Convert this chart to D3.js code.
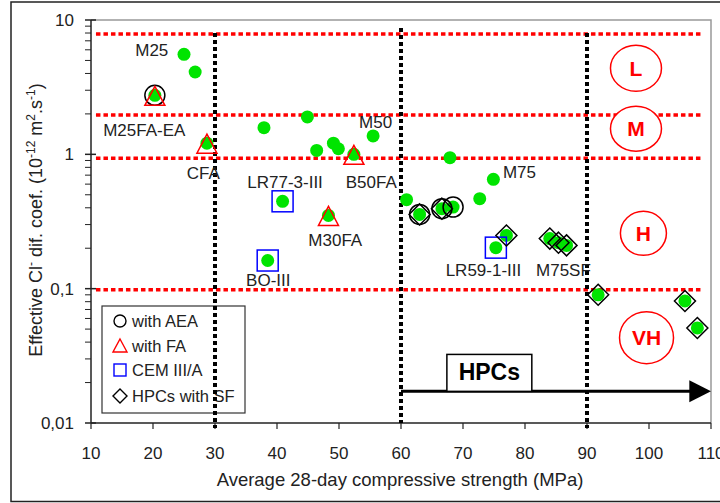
<!DOCTYPE html>
<html>
<head>
<meta charset="utf-8">
<script src="https://cdn.jsdelivr.net/npm/d3@7"></script>
<style>
  body { margin: 0; background: #fff; }
  text { font-family: "Liberation Sans", Arial, sans-serif; fill: #222; }
</style>
</head>
<body>
<svg id="chart"></svg>
<script>
// all concretes (green dots)
let strength = [25.0, 26.8, 20.3, 28.7, 37.9, 44.9, 46.4, 49.1, 49.9, 52.4, 55.5, 40.9, 48.3, 38.5,
  67.9, 74.9, 72.7, 60.9, 63.0, 66.6, 68.4, 75.3, 77.0, 84.0, 85.4, 86.7, 91.8, 105.8, 107.8];
let diffCoef = [5.55, 4.10, 2.75, 1.21, 1.58, 1.90, 1.07, 1.21, 1.10, 1.0, 1.37, 0.447, 0.351, 0.162,
  0.945, 0.652, 0.468, 0.46, 0.357, 0.394, 0.405, 0.202, 0.249, 0.236, 0.220, 0.210, 0.090, 0.081, 0.051];

// marker groups
let aeaX = [20.3, 63.0, 66.6, 68.4];
let aeaY = [2.75, 0.357, 0.394, 0.405];
let faX = [20.3, 28.7, 52.4, 48.3];
let faY = [2.75, 1.21, 1.0, 0.351];
let cemX = [40.9, 38.5, 75.3];
let cemY = [0.447, 0.162, 0.202];
let sfX = [63.0, 66.6, 77.0, 84.0, 85.4, 86.7, 91.8, 105.8, 107.8];
let sfY = [0.357, 0.394, 0.249, 0.236, 0.220, 0.210, 0.090, 0.081, 0.051];

// point labels
let labelText = ["M25", "M25FA-EA", "CFA", "LR77-3-III", "B50FA", "M50", "M75", "M30FA", "BO-III", "LR59-1-III", "M75SF"];
let labelX = [19.8, 18.6, 28.1, 41.3, 55.2, 55.9, 79.1, 49.4, 38.6, 73.3, 86.2];
let labelY = [5.95, 1.51, 0.722, 0.619, 0.619, 1.73, 0.734, 0.229, 0.115, 0.137, 0.137];

// resistance classes
let classLimits = [8, 2, 0.95, 0.1];
let classNames = ["L", "M", "H", "VH"];
let classX = [97.9, 97.9, 99.1, 99.6];
let classY = [4.37, 1.55, 0.258, 0.0432];
let strengthLimits = [30, 60, 90];

let xTicks = [10, 20, 30, 40, 50, 60, 70, 80, 90, 100, 110];
let yTicks = [10, 1, 0.1, 0.01];
let yTickLabels = ["10", "1", "0,1", "0,01"];

let legendNames = ["with AEA", "with FA", "CEM III/A", "HPCs with SF"];

let w = 720;
let h = 503;
let pLeft = 91, pRight = 711, pTop = 20, pBottom = 423;

let svg = d3.select("#chart").attr("width", w).attr("height", h);

let xScale = d3.scaleLinear().domain([10, 110]).range([pLeft, pRight]);
let yScale = d3.scaleLog().domain([0.01, 10]).range([pBottom, pTop]);

// outer frame
svg.append("rect")
  .attr("x", 11).attr("y", 2).attr("width", 720).attr("height", 499.5)
  .attr("fill", "white").attr("stroke", "#222").attr("stroke-width", 1.5);

// plot frame (grey top / right)
svg.append("path")
  .attr("d", "M" + pLeft + "," + pTop + "H" + pRight + "V" + pBottom)
  .attr("fill", "none").attr("stroke", "#999").attr("stroke-width", 1.5);

// axes
let yMinor = [];
[0.01, 0.1, 1].forEach(b => { for (let k = 2; k <= 9; k++) yMinor.push(b * k); });

let yAxis = svg.append("g").attr("transform", "translate(" + pLeft + ",0)");
yAxis.append("line").attr("x1", 0).attr("x2", 0).attr("y1", pTop).attr("y2", pBottom)
  .attr("stroke", "#222").attr("stroke-width", 1.5);
yAxis.selectAll(".minor").data(yMinor).enter().append("line")
  .attr("x1", -6).attr("x2", 0)
  .attr("y1", d => yScale(d)).attr("y2", d => yScale(d))
  .attr("stroke", "#222").attr("stroke-width", 1);
yAxis.selectAll(".major").data(yTicks).enter().append("line")
  .attr("x1", -6).attr("x2", 5)
  .attr("y1", d => yScale(d)).attr("y2", d => yScale(d))
  .attr("stroke", "#222").attr("stroke-width", 1.5);
yAxis.selectAll(".lab").data(yTicks).enter().append("text")
  .attr("x", -17).attr("y", d => yScale(d)).attr("dy", "0.35em")
  .attr("text-anchor", "end").style("font-size", "17px")
  .text((d, i) => yTickLabels[i]);

let xAxis = svg.append("g").attr("transform", "translate(0," + pBottom + ")");
xAxis.append("line").attr("x1", pLeft).attr("x2", pRight).attr("y1", 0).attr("y2", 0)
  .attr("stroke", "#222").attr("stroke-width", 1.5);
xAxis.selectAll(".tick").data(xTicks).enter().append("line")
  .attr("x1", d => xScale(d)).attr("x2", d => xScale(d))
  .attr("y1", 0).attr("y2", 6)
  .attr("stroke", "#222").attr("stroke-width", 1.2);
xAxis.selectAll(".lab").data(xTicks).enter().append("text")
  .attr("x", d => xScale(d)).attr("y", 30).attr("dy", "0.35em")
  .attr("text-anchor", "middle").style("font-size", "17px")
  .text(d => d);

// axis titles
svg.append("text")
  .attr("x", 400).attr("y", 486)
  .attr("text-anchor", "middle").style("font-size", "18.5px")
  .text("Average 28-day compressive strength (MPa)");

let yt = svg.append("text")
  .attr("transform", "translate(42,220) rotate(-90)")
  .attr("text-anchor", "middle").style("font-size", "18px");
yt.append("tspan").text("Effective Cl");
yt.append("tspan").attr("dy", -7).style("font-size", "12px").text("-");
yt.append("tspan").attr("dy", 7).text(" dif. coef. (10");
yt.append("tspan").attr("dy", -7).style("font-size", "12px").text("-12");
yt.append("tspan").attr("dy", 7).text(" m");
yt.append("tspan").attr("dy", -7).style("font-size", "12px").text("2");
yt.append("tspan").attr("dy", 7).text(".s");
yt.append("tspan").attr("dy", -7).style("font-size", "12px").text("-1");
yt.append("tspan").attr("dy", 7).text(")");

// legend box
let lg = svg.append("g");
lg.append("rect").attr("x", 102).attr("y", 306).attr("width", 143).attr("height", 107)
  .attr("fill", "white").attr("stroke", "#333").attr("stroke-width", 1.2);

// class limits (red dotted)
svg.selectAll(".classLine").data(classLimits).enter().append("line")
  .attr("x1", xScale(10.8)).attr("x2", xScale(108.3))
  .attr("y1", d => yScale(d) + 1).attr("y2", d => yScale(d) + 1)
  .attr("stroke", "red").attr("stroke-width", 3.5)
  .attr("stroke-dasharray", "4.5,3");

// strength limits (black dotted)
svg.selectAll(".strLine").data(strengthLimits).enter().append("line")
  .attr("x1", d => xScale(d)).attr("x2", d => xScale(d))
  .attr("y1", (d, i) => i == 1 ? yScale(8.7) : yScale(8))
  .attr("y2", (d, i) => i == 1 ? pBottom : pBottom + 5)
  .attr("stroke", "black").attr("stroke-width", 4)
  .attr("stroke-dasharray", "4,3");

// legend content
let legendY = [321, 346, 370, 396];
lg.append("circle").attr("cx", 120).attr("cy", legendY[0]).attr("r", 6)
  .attr("fill", "none").attr("stroke", "black").attr("stroke-width", 1.4);
lg.append("path").attr("d", "M120," + (legendY[1] - 7) + "L127," + (legendY[1] + 6) + "L113," + (legendY[1] + 6) + "Z")
  .attr("fill", "none").attr("stroke", "red").attr("stroke-width", 1.4);
lg.append("rect").attr("x", 114).attr("y", legendY[2] - 6).attr("width", 12).attr("height", 12)
  .attr("fill", "none").attr("stroke", "blue").attr("stroke-width", 1.4);
lg.append("path").attr("d", "M120," + (legendY[3] - 7) + "L127," + legendY[3] + "L120," + (legendY[3] + 7) + "L113," + legendY[3] + "Z")
  .attr("fill", "none").attr("stroke", "black").attr("stroke-width", 1.4);
lg.selectAll("text").data(legendNames).enter().append("text")
  .attr("x", 132).attr("y", (d, i) => legendY[i]).attr("dy", "0.35em")
  .style("font-size", "16.5px").text(d => d);

// HPCs arrow
let arrowY = yScale(0.0172);
svg.append("line").attr("x1", xScale(60)).attr("x2", xScale(106.8))
  .attr("y1", arrowY).attr("y2", arrowY)
  .attr("stroke", "black").attr("stroke-width", 3);
svg.append("path")
  .attr("d", "M" + xScale(106.5) + "," + (arrowY - 11) + "L" + pRight + "," + arrowY + "L" + xScale(106.5) + "," + (arrowY + 11) + "Z")
  .attr("fill", "black");
svg.append("rect")
  .attr("x", xScale(67.4)).attr("y", yScale(0.0324))
  .attr("width", xScale(81.1) - xScale(67.4)).attr("height", arrowY - yScale(0.0324))
  .attr("fill", "white").attr("stroke", "black").attr("stroke-width", 1.5);
svg.append("text")
  .attr("x", (xScale(67.4) + xScale(81.1)) / 2).attr("y", arrowY - 11)
  .attr("text-anchor", "middle").style("font-size", "23px").style("font-weight", "bold")
  .style("fill", "black").text("HPCs");

// class ellipses
let ellR = [[25.5, 23], [25.5, 22.5], [23, 22], [27, 26]];
let cls = svg.selectAll(".cls").data(classNames).enter().append("g");
cls.append("ellipse")
  .attr("cx", (d, i) => xScale(classX[i])).attr("cy", (d, i) => yScale(classY[i]))
  .attr("rx", (d, i) => ellR[i][0]).attr("ry", (d, i) => ellR[i][1])
  .attr("fill", "white").attr("stroke", "red").attr("stroke-width", 1.5);
cls.append("text")
  .attr("x", (d, i) => xScale(classX[i])).attr("y", (d, i) => yScale(classY[i]))
  .attr("dy", "0.36em").attr("text-anchor", "middle")
  .style("font-size", "21px").style("font-weight", "bold").style("fill", "red")
  .text(d => d);

// green dots
svg.selectAll(".dot").data(strength).enter().append("circle")
  .attr("cx", d => xScale(d)).attr("cy", (d, i) => yScale(diffCoef[i]))
  .attr("r", 6.5).attr("fill", "#00e400");

// markers
svg.selectAll(".aea").data(aeaX).enter().append("circle")
  .attr("cx", d => xScale(d)).attr("cy", (d, i) => yScale(aeaY[i]))
  .attr("r", 10).attr("fill", "none").attr("stroke", "black").attr("stroke-width", 1.5);
svg.selectAll(".fa").data(faX).enter().append("path")
  .attr("d", (d, i) => {
    let cx = xScale(d), cy = yScale(faY[i]) + 1;
    return "M" + cx + "," + (cy - 10) + "L" + (cx + 10) + "," + (cy + 9) + "L" + (cx - 10) + "," + (cy + 9) + "Z";
  })
  .attr("fill", "none").attr("stroke", "red").attr("stroke-width", 1.5);
svg.selectAll(".cem").data(cemX).enter().append("rect")
  .attr("x", d => xScale(d) - 10.5).attr("y", (d, i) => yScale(cemY[i]) - 10.5)
  .attr("width", 21).attr("height", 21)
  .attr("fill", "none").attr("stroke", "blue").attr("stroke-width", 1.5);
svg.selectAll(".sf").data(sfX).enter().append("path")
  .attr("d", (d, i) => {
    let cx = xScale(d), cy = yScale(sfY[i]);
    return "M" + cx + "," + (cy - 10.5) + "L" + (cx + 10.5) + "," + cy + "L" + cx + "," + (cy + 10.5) + "L" + (cx - 10.5) + "," + cy + "Z";
  })
  .attr("fill", "none").attr("stroke", "black").attr("stroke-width", 1.5);

// point labels
svg.selectAll(".plab").data(labelText).enter().append("text")
  .attr("x", (d, i) => xScale(labelX[i])).attr("y", (d, i) => yScale(labelY[i]))
  .attr("dy", "0.35em").attr("text-anchor", "middle")
  .style("font-size", "17px")
  .text(d => d);
</script>
</body>
</html>
